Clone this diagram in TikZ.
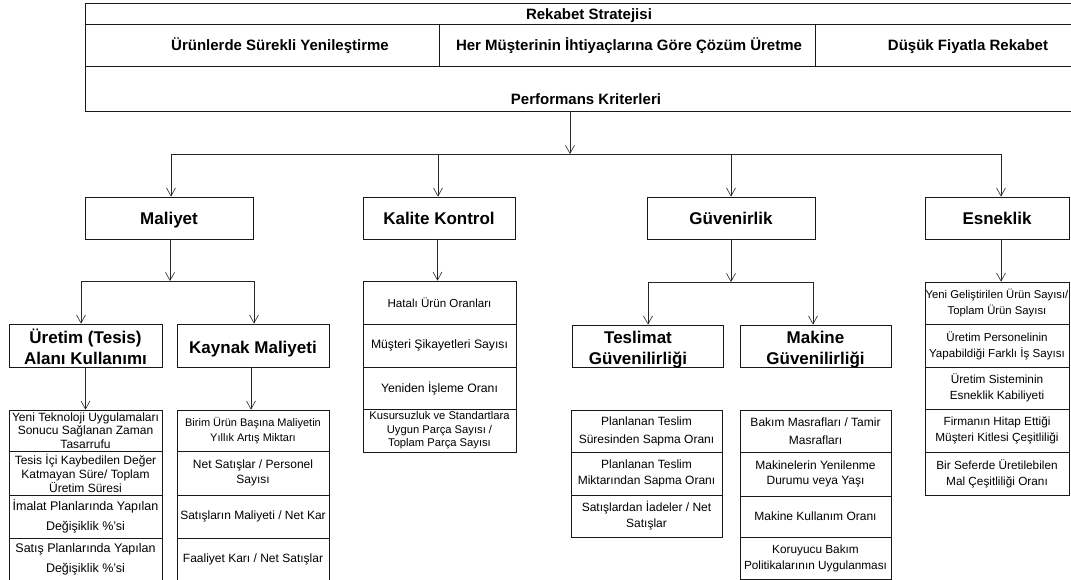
\documentclass[tikz,border=0pt]{standalone}
\usepackage{fontspec}
\setmainfont{Liberation Sans}
\usetikzlibrary{arrows.meta}
\newcommand{\mycell}[7]{%
  \pgfmathsetmacro\cw{#4-#2}\pgfmathsetmacro\ch{#5-#3}%
  \pgfmathsetmacro\cx{(#2+#4)/2}\pgfmathsetmacro\cy{(#3+#5)/2}%
  \node[cell, minimum width=\cw pt, minimum height=\ch pt] (#1) at (\cx,\cy) {};%
  \node[celltext, font={#6}] (#1t) at (#1.center) {#7};}
\tikzset{
  tbl/.style={draw=black!90, line width=0.9pt, inner sep=0pt},
  toptext/.style={inner sep=0pt, font=\fontsize{15}{18}\selectfont\bfseries},
  catbox/.style={draw=black!90, line width=0.9pt, inner sep=0pt},
  cattext/.style={inner sep=0pt, align=center, font=\fontsize{17}{21}\selectfont\bfseries},
  cell/.style={draw=black!90, line width=0.8pt, inner sep=0pt},
  celltext/.style={inner sep=0pt, align=center},
  conn/.style={draw=black!85, line width=0.6pt},
  arr/.style={conn, -{Straight Barb[length=8pt,width=9pt,line width=0.6pt]}},
}
\begin{document}
\begin{tikzpicture}[x=1pt,y=-1pt]
\useasboundingbox[fill=white] (0,0) rectangle (1071,580);
% top table
\node[tbl, minimum width=1015pt, minimum height=21pt] (rek) at (592.5,13.5) {};
\node[toptext, anchor=base] (rekt) at (589,19.5) {Rekabet Stratejisi};
\node[tbl, minimum width=354pt, minimum height=42pt] (c1) at (262,45) {};
\node[tbl, minimum width=376pt, minimum height=42pt] (c2) at (627,45) {};
\node[tbl, minimum width=285pt, minimum height=42pt] (c3) at (957.5,45) {};
\node[toptext, anchor=base] (c1t) at (280,51) {Ürünlerde Sürekli Yenileştirme};
\node[toptext, anchor=base] (c2t) at (629,51) {Her Müşterinin İhtiyaçlarına Göre Çözüm Üretme};
\node[toptext, anchor=base] (c3t) at (968,51) {Düşük Fiyatla Rekabet};
\node[tbl, minimum width=1015pt, minimum height=45pt] (perf) at (592.5,88.5) {};
\node[toptext, anchor=base] (perft) at (586,105) {Performans Kriterleri};
% main categories
\node[catbox, minimum width=168pt, minimum height=42pt] (mal) at (169,218) {};
\node[cattext, anchor=base] (malt) at (169,225) {Maliyet};
\node[catbox, minimum width=152pt, minimum height=42pt] (kal) at (439,218) {};
\node[cattext, anchor=base] (kalt) at (439,225) {Kalite Kontrol};
\node[catbox, minimum width=168pt, minimum height=42pt] (guv) at (731,218) {};
\node[cattext, anchor=base] (guvt) at (731,225) {Güvenirlik};
\node[catbox, minimum width=144pt, minimum height=42pt] (esn) at (997,218) {};
\node[cattext, anchor=base] (esnt) at (997,225) {Esneklik};
% sub categories
\node[catbox, minimum width=153pt, minimum height=43pt] (ure) at (85.5,345.5) {};
\node[cattext] (uret) at (85.5,347) {Üretim (Tesis)\\Alanı Kullanımı};
\node[catbox, minimum width=152pt, minimum height=43pt] (kay) at (253,345.5) {};
\node[cattext, anchor=base] (kayt) at (253,353) {Kaynak Maliyeti};
\node[catbox, minimum width=151pt, minimum height=42pt] (tes) at (647.5,346) {};
\node[cattext] (test) at (638,350) {Teslimat\\Güvenilirliği};
\node[catbox, minimum width=151pt, minimum height=42pt] (mak) at (815.5,346) {};
\node[cattext] (makt) at (815.5,349.5) {Makine\\Güvenilirliği};
% lists: Uretim
\mycell{u1}{9}{410}{162}{451}{\fontsize{12}{13.5}\selectfont}{Yeni Teknoloji Uygulamaları\\Sonucu Sağlanan Zaman\\Tasarrufu}
\mycell{u2}{9}{451}{162}{495}{\fontsize{12}{14}\selectfont}{Tesis İçi Kaybedilen Değer\\Katmayan Süre/ Toplam\\Üretim Süresi}
\mycell{u3}{9}{495}{162}{538}{\fontsize{12.5}{20}\selectfont}{İmalat Planlarında Yapılan\\Değişiklik \%'si}
\mycell{u4}{9}{538}{162}{581}{\fontsize{12.5}{20}\selectfont}{Satış Planlarında Yapılan\\Değişiklik \%'si}
% Kaynak
\mycell{k1}{177}{410}{329}{451}{\fontsize{11}{15}\selectfont}{Birim Ürün Başına Maliyetin\\Yıllık Artış Miktarı}
\mycell{k2}{177}{451}{329}{495}{\fontsize{12}{15.5}\selectfont}{Net Satışlar / Personel\\Sayısı}
\mycell{k3}{177}{495}{329}{538}{\fontsize{12}{15}\selectfont}{Satışların Maliyeti / Net Kar}
\mycell{k4}{177}{538}{329}{581}{\fontsize{12}{15}\selectfont}{Faaliyet Karı / Net Satışlar}
% Kalite
\mycell{q1}{363}{281}{516}{324}{\fontsize{11.6}{15}\selectfont}{Hatalı Ürün Oranları}
\mycell{q2}{363}{324}{516}{367}{\fontsize{12.2}{15}\selectfont}{Müşteri Şikayetleri Sayısı}
\mycell{q3}{363}{367}{516}{409}{\fontsize{12.2}{15}\selectfont}{Yeniden İşleme Oranı}
\mycell{q4}{363}{409}{516}{452}{\fontsize{11.2}{13.5}\selectfont}{Kusursuzluk ve Standartlara\\Uygun Parça Sayısı /\\Toplam Parça Sayısı}
% Teslimat
\mycell{t1}{571}{410}{722}{452}{\fontsize{12}{18}\selectfont}{Planlanan Teslim\\Süresinden Sapma Oranı}
\mycell{t2}{571}{452}{722}{495}{\fontsize{12}{16}\selectfont}{Planlanan Teslim\\Miktarından Sapma Oranı}
\mycell{t3}{571}{495}{722}{537}{\fontsize{12}{16}\selectfont}{Satışlardan İadeler / Net\\Satışlar}
% Makine
\mycell{m1}{740}{410}{891}{452}{\fontsize{12}{18}\selectfont}{Bakım Masrafları / Tamir\\Masrafları}
\mycell{m2}{740}{452}{891}{496}{\fontsize{12}{15.5}\selectfont}{Makinelerin Yenilenme\\Durumu veya Yaşı}
\mycell{m3}{740}{496}{891}{537}{\fontsize{12}{15}\selectfont}{Makine Kullanım Oranı}
\mycell{m4}{740}{537}{891}{579}{\fontsize{11.8}{16}\selectfont}{Koruyucu Bakım\\Politikalarının Uygulanması}
% Esneklik
\mycell{e1}{925}{282}{1069}{324}{\fontsize{11.3}{16}\selectfont}{Yeni Geliştirilen Ürün Sayısı/\\Toplam Ürün Sayısı}
\mycell{e2}{925}{324}{1069}{367}{\fontsize{11.6}{16}\selectfont}{Üretim Personelinin\\Yapabildiği Farklı İş Sayısı}
\mycell{e3}{925}{367}{1069}{409}{\fontsize{11.8}{16}\selectfont}{Üretim Sisteminin\\Esneklik Kabiliyeti}
\mycell{e4}{925}{409}{1069}{452}{\fontsize{11.8}{16}\selectfont}{Firmanın Hitap Ettiği\\Müşteri Kitlesi Çeşitliliği}
\mycell{e5}{925}{452}{1069}{495}{\fontsize{11.8}{16}\selectfont}{Bir Seferde Üretilebilen\\Mal Çeşitliliği Oranı}
% connectors
\coordinate (pj) at (570,154);
\coordinate (b1) at (171,154);
\coordinate (b2) at (438,154);
\coordinate (b3) at (731,154);
\coordinate (b4) at (1001,154);
\draw[arr] (perf.south -| pj) -- (pj);
\draw[conn] (b1) -- (b4);
\draw[arr] (b1) -- (b1 |- mal.north);
\draw[arr] (b2) -- (b2 |- kal.north);
\draw[arr] (b3) -- (b3 |- guv.north);
\draw[arr] (b4) -- (b4 |- esn.north);
% Maliyet branch
\coordinate (mj) at (170,281);
\coordinate (mjl) at (81,281);
\coordinate (mjr) at (254,281);
\draw[arr] (mj |- mal.south) -- (mj);
\draw[conn] (mjl) -- (mjr);
\draw[arr] (mjl) -- (mjl |- ure.north);
\draw[arr] (mjr) -- (mjr |- kay.north);
\draw[arr] (ure.south) -- (ure.south |- u1.north);
\draw[arr] ([xshift=-2pt]kay.south) -- ([xshift=-2pt]kay.south |- k1.north);
% Kalite
\draw[arr] ([xshift=-1.5pt]kal.south) -- ([xshift=-1.5pt]kal.south |- q1.north);
% Guvenirlik branch
\coordinate (gj) at (731,282);
\coordinate (gjl) at (648,282);
\coordinate (gjr) at (813,282);
\draw[arr] (gj |- guv.south) -- (gj);
\draw[conn] (gjl) -- (gjr);
\draw[arr] (gjl) -- (gjl |- tes.north);
\draw[arr] (gjr) -- (gjr |- mak.north);
% Esneklik
\draw[arr] (b4 |- esn.south) -- (b4 |- e1.north);
\end{tikzpicture}
\end{document}
